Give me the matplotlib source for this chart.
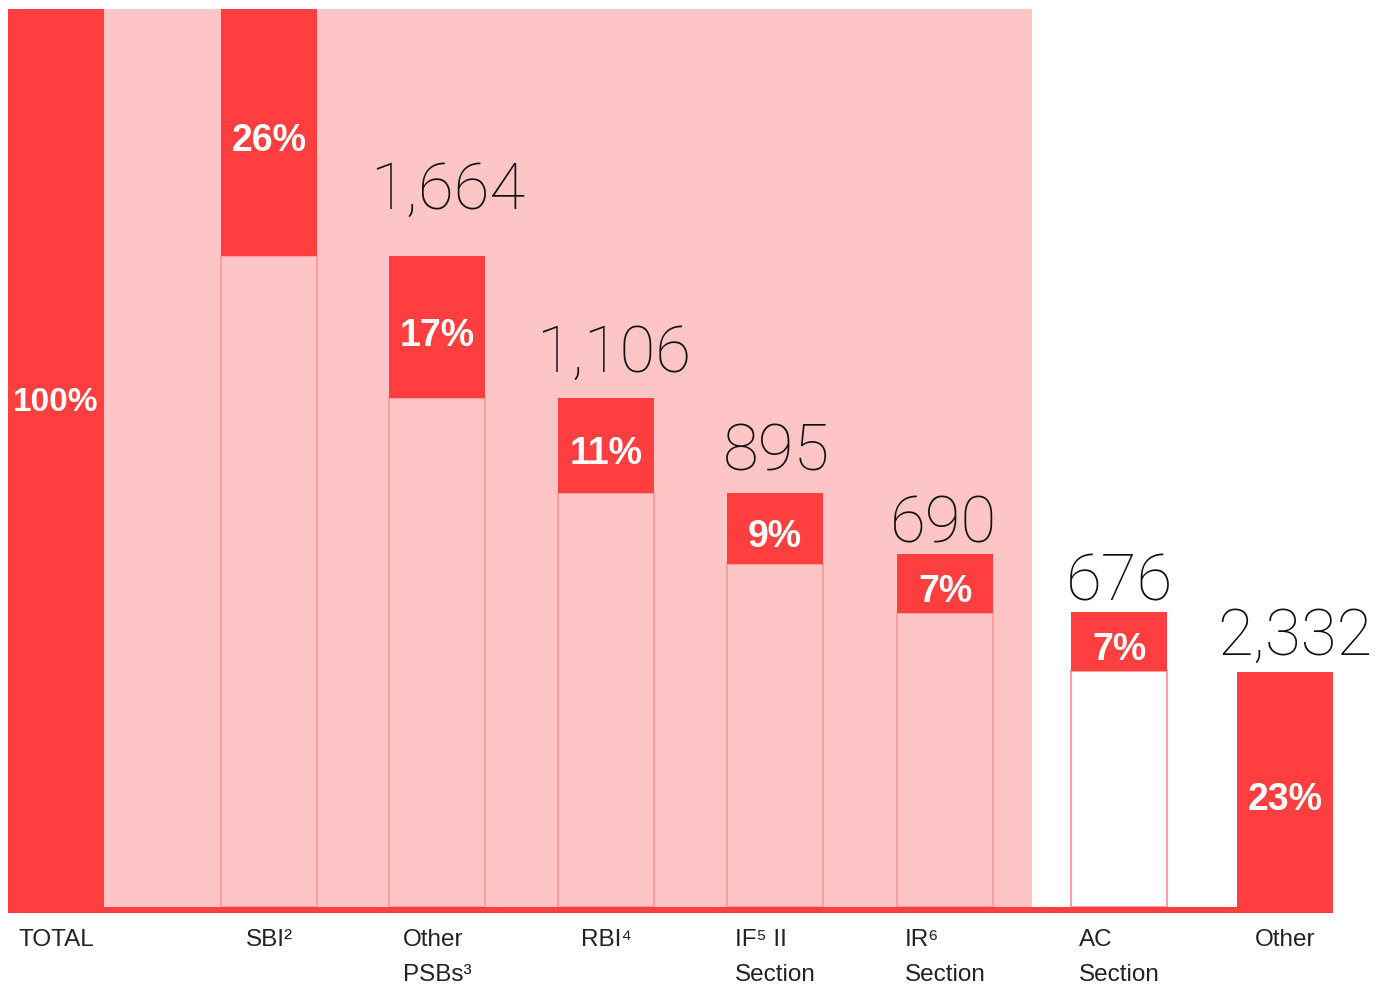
import matplotlib
matplotlib.use("Agg")
import matplotlib.pyplot as plt
from matplotlib.patches import Rectangle

# Datos (en % de la altura total)
categorias = ["TOTAL", "SBI²", "Other\nPSBs³", "RBI⁴", "IF⁵ II\nSection", "IR⁶\nSection", "AC\nSection", "Other"]
porcentajes = ["100%", "26%", "17%", "11%", "9%", "7%", "7%", "23%"]
valores = ["", "", "1,664", "1,106", "895", "690", "676", "2,332"]
tope = [100, 100, 72.6, 56.9, 46.4, 39.6, 33.2, 26.6]
base = [0, 72.6, 56.9, 46.4, 38.5, 33.1, 26.7, 0]

# Disposicion (centros de columna en pixeles, desplazamientos de textos)
x_pos = [56, 269, 437, 606, 775, 945, 1119, 1285]
ancho = 96
desp_x_valor = [0, 0, 11, 8, 1, -2, 0, 10]
desp_y_valor = [0, 0, 5.3, 2.9, 2.5, 1.3, 1.3, 1.9]
rojo = "#FF3F3F"
rosa = "#FEC5C6"
borde = "#FF9E9E"
linea_base = 0.55
px = 9.03  # pixeles por punto porcentual

fig = plt.figure(figsize=(13.89, 9.88), dpi=100)
ax = fig.add_axes([0, 0, 1, 1])
ax.set_xlim(0, 1389)
ax.set_ylim(-8.42, 101.0)
ax.axis("off")

# Banda rosa de fondo: del borde del TOTAL hasta entre IR y AC
x_ini = x_pos[0] + ancho / 2
x_fin = (x_pos[5] + x_pos[6]) / 2
ax.add_patch(Rectangle((x_ini, linea_base), x_fin - x_ini, 100 - linea_base,
                       facecolor=rosa, edgecolor="none", zorder=0))

# Linea base roja
ax.add_patch(Rectangle((x_pos[0] - ancho / 2, -0.11), x_pos[-1] - x_pos[0] + ancho, linea_base + 0.11,
                       facecolor=rojo, edgecolor="none", zorder=3))

for i, cat in enumerate(categorias):
    x = x_pos[i]
    # segmento rojo
    ax.bar(x, tope[i] - base[i], bottom=base[i], width=ancho, color=rojo, zorder=2)
    # caja inferior con borde
    if base[i] > 0:
        fondo = rosa if x < x_fin else "white"
        ax.add_patch(Rectangle((x - ancho / 2, linea_base), ancho, base[i] - linea_base,
                               facecolor=fondo, edgecolor=borde, linewidth=1.5, zorder=1))
    # porcentaje (linea base calculada para centrar la altura de mayusculas)
    tam = 24 if i == 0 else 27
    centro = 56.8 if i == 0 else (tope[i] + base[i]) / 2 - 5 / px
    ax.text(x, centro - tam / 2 / px, porcentajes[i], color="white", fontsize=tam, fontweight="bold",
            family=["Liberation Sans", "DejaVu Sans"], ha="center", va="baseline", zorder=4)
    # valor
    if valores[i]:
        ax.text(x + desp_x_valor[i], tope[i] + desp_y_valor[i], valores[i], color="#111111",
                fontsize=47, fontweight=100, family=["Roboto", "DejaVu Sans"],
                ha="center", va="baseline", zorder=4)
    # etiqueta de categoria
    ax.text(x, -1.9, cat, color="#222222", fontsize=17.5, family=["Liberation Sans", "DejaVu Sans"],
            ha="center", va="top", multialignment="left", linespacing=1.75, zorder=4)

fig.savefig("out.png", dpi=100)
